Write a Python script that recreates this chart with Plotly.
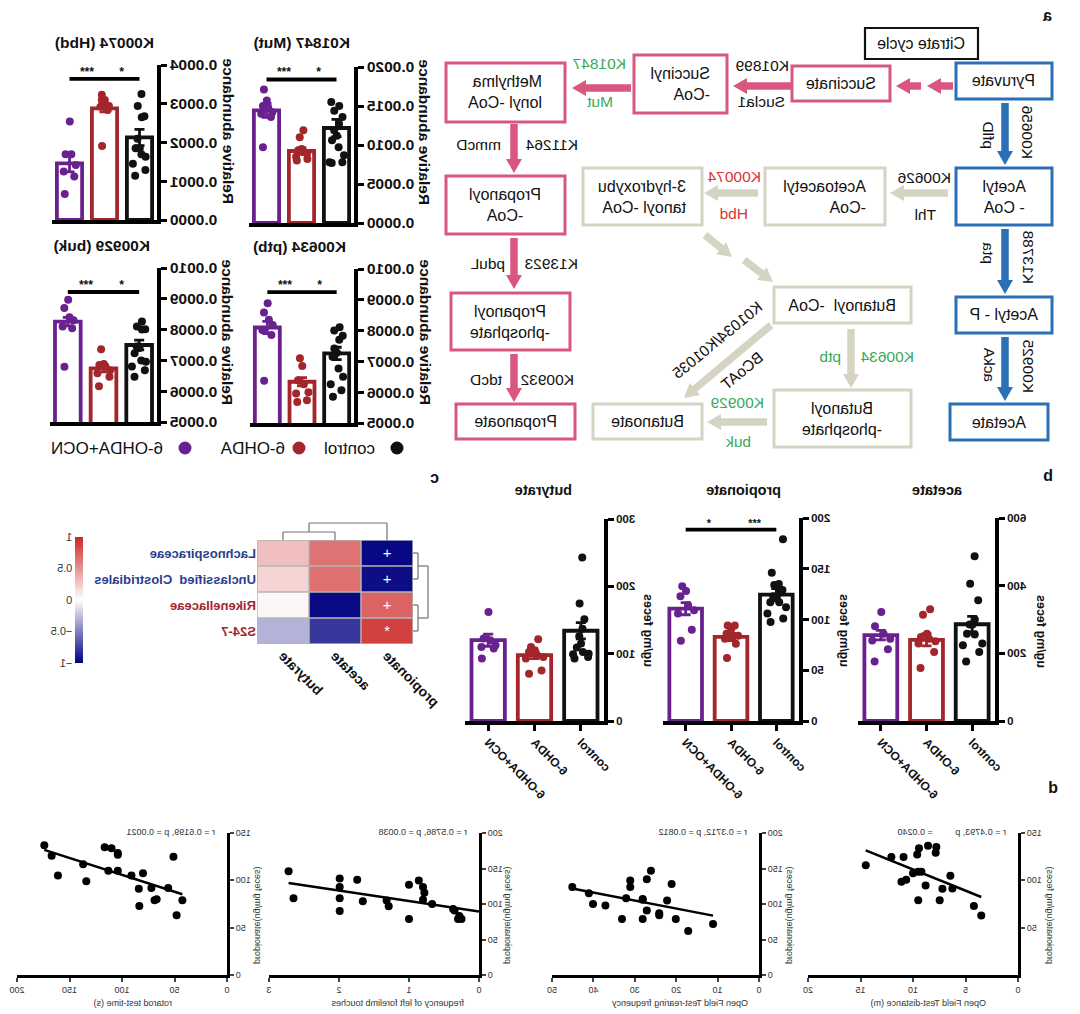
import numpy as np
import plotly.graph_objects as go

W, H = 1080, 1014
FONT = "Liberation Sans, Arial, Helvetica, sans-serif"


def px(x):
    return x / W


def py(y):
    return 1 - y / H


# ------------------------------------------------------------------ data
groups = ["control", "6-OHDA", "6-OHDA+OCN"]
group_colors = ["#111111", "#a3262c", "#6a2190"]

# KEGG relative abundance (K01847 Mut)
k01847_means = [0.001218, 0.000923, 0.001444]
k01847_sems = [0.00011, 0.00004, 0.00009]
k01847_ctrl = [0.00155, 0.00150, 0.00144, 0.00136, 0.00127, 0.00119, 0.00112, 0.00106, 0.00097, 0.00087, 0.00078, 0.00077, 0.00078]
k01847_ohda = [0.00119, 0.00110, 0.00091, 0.00089, 0.00082, 0.00080, 0.00085, 0.00093, 0.00095]
k01847_ocn = [0.00171, 0.00157, 0.00150, 0.00142, 0.00140, 0.00136, 0.00097, 0.00148]

# K00074 Hbd
k00074_means = [0.000213, 0.000288, 0.000146]
k00074_sems = [0.000021, 0.000009, 0.000022]
k00074_ctrl = [0.000325, 0.000294, 0.000268, 0.000265, 0.000210, 0.000185, 0.000185, 0.000170, 0.000163, 0.000145, 0.000129, 0.000114]
k00074_ohda = [0.000323, 0.000310, 0.000310, 0.000297, 0.000294, 0.000292, 0.000284, 0.000191]
k00074_ocn = [0.000254, 0.000170, 0.000170, 0.000142, 0.000125, 0.000112, 0.000067]

# K00634 ptb
k00634_means = [0.000726, 0.000634, 0.000810]
k00634_sems = [0.000020, 0.000013, 0.000020]
k00634_ctrl = [0.000811, 0.000800, 0.000783, 0.000770, 0.000742, 0.000728, 0.000715, 0.000677, 0.000650, 0.000626, 0.000606, 0.000585]
k00634_ohda = [0.000710, 0.000685, 0.000639, 0.000626, 0.000600, 0.000596, 0.000574, 0.000568]
k00634_ocn = [0.000889, 0.000859, 0.000835, 0.000818, 0.000802, 0.000786, 0.000637]

# K00929 buk
k00929_means = [0.000750, 0.000674, 0.000826]
k00929_sems = [0.000016, 0.000011, 0.000014]
k00929_ctrl = [0.000826, 0.000810, 0.000801, 0.000800, 0.000745, 0.000740, 0.000723, 0.000700, 0.000696, 0.000680, 0.000668, 0.000647]
k00929_ohda = [0.000736, 0.000688, 0.000685, 0.000680, 0.000668, 0.000658, 0.000647, 0.000616]
k00929_ocn = [0.000897, 0.000870, 0.000840, 0.000830, 0.000810, 0.000804, 0.000679]

kegg_sig = [0.00184, 0.000364, 0.000925, 0.000922]

# SCFA (ug/mg feces)
acetate_means = [286, 240, 254]
acetate_sems = [23, 18, 14]
acetate_ctrl = [487, 406, 357, 300, 285, 285, 258, 256, 229, 224, 204, 176]
acetate_ohda = [330, 314, 258, 248, 243, 236, 229, 204, 157]
acetate_ocn = [322, 280, 258, 243, 238, 212, 176]

propionate_means = [124.5, 82.8, 110.7]
propionate_sems = [6, 3.5, 6]
propionate_ctrl = [179, 146, 135, 134, 129, 127, 123, 122, 117, 117, 112, 106, 101, 97.5]
propionate_ohda = [94, 94, 91, 86, 84, 84, 81, 76, 62]
propionate_ocn = [132.7, 128, 123, 114, 109, 106, 90, 79]
propionate_sig = 188.5

butyrate_means = [134, 97.7, 120]
butyrate_sems = [12, 5, 9]
butyrate_ctrl = [243, 174.5, 151, 137, 126, 115, 109, 102.6, 100, 99, 95, 93]
butyrate_ohda = [121.5, 110, 105, 102.6, 97.7, 95, 92.7, 75, 70]
butyrate_ocn = [162, 122.5, 120, 112.5, 110, 107.6, 93]

# Heatmap (Spearman r)
hm_cols = ["propionate", "acetate", "butyrate"]
hm_rows = ["Lachnospiraceae", "Unclassified  Clostridiales", "Rikenellaceae", "S24-7"]
hm_row_colors = ["#2b3d8c", "#2b3d8c", "#a3262c", "#a3262c"]
hm_z = [[-0.97, 0.65, 0.30],
        [-0.95, 0.66, 0.20],
        [0.72, -0.96, 0.04],
        [0.88, -0.78, -0.30]]
hm_marks = [["+", "", ""], ["+", "", ""], ["+", "", ""], ["*", "", ""]]

# Correlation scatter plots (propionate vs behaviour)
s1_x = [14.5, 12.06, 10.9, 11.1, 10.65, 10.0, 9.6, 9.43, 8.57, 7.78, 7.84, 9.52, 9.2, 8.8, 9.5, 7.46, 7.2, 6.44, 6.25, 4.2, 3.5]
s1_y = [116, 124.6, 124.6, 98.5, 100.6, 107.6, 127.4, 133.8, 136.6, 135.2, 129.2, 109, 109, 94.6, 79, 79, 91, 104.8, 91.4, 73, 62.8]
s2_x = [45.1, 41.1, 40.1, 37.1, 33.1, 32.1, 31.1, 31.1, 28.1, 28.1, 28.1, 27.1, 27.1, 26.1, 24.1, 24.1, 22.2, 21.1, 20.1, 17.1, 11.1]
s2_y = [124, 115, 100, 98, 79, 108, 124, 133, 79, 106, 107, 135, 91, 147, 87, 84, 105, 128, 79, 62, 72]
s3_x = [2.72, 2.65, 1.99, 1.99, 1.99, 1.99, 1.74, 1.66, 1.32, 1.29, 1.0, 1.0, 0.86, 0.8, 0.78, 0.8, 0.67, 0.37, 0.35, 0.28, 0.30, 0.25]
s3_y = [146, 108, 136, 124, 108, 90, 134, 104, 105, 97, 127, 79, 133, 124, 116, 106, 100, 93, 91, 83, 79, 79]
s4_x = [174, 167, 161, 137, 134, 116.5, 110, 104, 104, 113, 104, 91, 80, 84, 83.5, 72, 69, 67, 56, 51, 48, 42.5]
s4_y = [137, 126, 105, 117, 99, 135, 134, 129, 127, 110, 110, 105, 107.5, 91, 73, 92, 79, 80, 92, 125, 63, 79]
scatter_xtitles = ["Open Field Test-distance (m)", "Open Field Test-rearing frequency",
                   "frequency of left forelimb touches", "rotarod test-time (s)"]
scatter_stats = ["r = 0.4793, p         = 0.0240", "r = 0.3712, p = 0.0812",
                 "r = 0.5786, p = 0.0038", "r = 0.6199, p = 0.0021"]
scatter_xmax = [20, 50, 3, 200]
scatter_xdtick = [5, 10, 1, 50]
scatter_ymax = [150, 200, 200, 150]

# ------------------------------------------------------------------ layout helpers
# panel boxes in pixels: x0, x1, ytop, ybottom
boxes = {
    1: (726, 831, 67, 223), 2: (923, 1028, 65, 220),
    3: (726, 830, 269, 423), 4: (923, 1030, 268, 422),
    5: (85, 222, 518, 721), 6: (281, 417, 518, 721), 7: (476, 615, 519, 721),
    8: (667, 823, 540, 644),
    9: (62, 272, 833, 975), 10: (321, 528, 833, 975), 11: (601, 811, 833, 975), 12: (853, 1063, 833, 975),
}


def ax_ids(i):
    return ("x" if i == 1 else f"x{i}"), ("y" if i == 1 else f"y{i}")


def ax_keys(i):
    return ("xaxis" if i == 1 else f"xaxis{i}"), ("yaxis" if i == 1 else f"yaxis{i}")


fig = go.Figure()
layout = {}
annotations = []
shapes = []


def font(size, color="#111111", bold=False):
    d = dict(family=FONT, size=size, color=color)
    if bold:
        d["weight"] = "bold"
    return d


def ann(text, x, y, size=15, color="#111111", bold=False, angle=0, xanchor="center", yanchor="middle", align="center"):
    annotations.append(dict(text=text, x=px(x), y=py(y), xref="paper", yref="paper", showarrow=False,
                            font=font(size, color, bold), textangle=angle, xanchor=xanchor, yanchor=yanchor,
                            align=align))


def set_domain(i):
    x0, x1, yt, yb = boxes[i]
    xk, yk = ax_keys(i)
    xa, ya = ax_ids(i)
    layout[xk] = dict(domain=[px(x0), px(x1)], anchor=ya, automargin=False)
    layout[yk] = dict(domain=[py(yb), py(yt)], anchor=xa, automargin=False)
    return xk, yk, xa, ya


def bar_panel(i, means, sems, pts, yrange, dtick, tickfmt, tick_size, show_xlabels, sig=None, sig_labels=None,
              star_size=12):
    xk, yk, xa, ya = set_domain(i)
    for g, (m, s, p, c) in enumerate(zip(means, sems, pts, group_colors)):
        fig.add_trace(go.Bar(x=[g], y=[m], width=0.72, xaxis=xa, yaxis=ya, showlegend=False, hoverinfo="skip",
                             marker=dict(color="white", line=dict(color=c, width=3.8)),
                             error_y=dict(type="data", array=[s], color=c, thickness=2.8, width=5)))
    for g, (p, c) in enumerate(zip(pts, group_colors)):
        fig.add_trace(go.Box(x=[g] * len(p), y=p, xaxis=xa, yaxis=ya, boxpoints="all", jitter=0.75, pointpos=0,
                             width=0.7, fillcolor="rgba(0,0,0,0)", line=dict(color="rgba(0,0,0,0)", width=0),
                             marker=dict(color=c, size=8), showlegend=False, hoverinfo="skip"))
    if sig is not None:
        fig.add_trace(go.Scatter(x=[0, len(groups) - 1], y=[sig, sig], mode="lines", xaxis=xa, yaxis=ya,
                                 line=dict(color="black", width=3.8), showlegend=False, hoverinfo="skip"))
        for k, lab in enumerate(sig_labels):
            annotations.append(dict(text=lab, x=k + 0.5, y=sig, xref=xa, yref=ya, showarrow=False, yshift=7,
                                    font=font(star_size, bold=True), xanchor="center", yanchor="middle"))
    layout[xk].update(range=[-0.5, 2.5], showline=True, linewidth=3.5, linecolor="black", showgrid=False,
                      zeroline=False, tickvals=list(range(len(groups))), ticktext=groups,
                      showticklabels=show_xlabels, ticks="outside" if show_xlabels else "",
                      ticklen=6, tickwidth=2.8, tickcolor="black", tickangle=-45,
                      tickfont=font(12, bold=True))
    layout[yk].update(range=yrange, showline=True, linewidth=3.5, linecolor="black", showgrid=False,
                      zeroline=False, ticks="outside", ticklen=6, tickwidth=2.8, tickcolor="black",
                      dtick=dtick, tick0=yrange[0], tickformat=tickfmt, tickfont=font(tick_size, bold=True))


# KEGG panels (top right)
stars_k = ["*", "***"]
bar_panel(1, k01847_means, k01847_sems, [k01847_ctrl, k01847_ohda, k01847_ocn], [0, 0.002], 0.0005, ".4f", 15.5,
          False, kegg_sig[0], stars_k)
bar_panel(2, k00074_means, k00074_sems, [k00074_ctrl, k00074_ohda, k00074_ocn], [0, 0.0004], 0.0001, ".4f", 15.5,
          False, kegg_sig[1], stars_k)
bar_panel(3, k00634_means, k00634_sems, [k00634_ctrl, k00634_ohda, k00634_ocn], [0.0005, 0.0010], 0.0001, ".4f",
          15.5, False, kegg_sig[2], stars_k)
bar_panel(4, k00929_means, k00929_sems, [k00929_ctrl, k00929_ohda, k00929_ocn], [0.0005, 0.0010], 0.0001, ".4f",
          15.5, False, kegg_sig[3], stars_k)
for t, x, y in zip(["K01847 (Mut)", "K00074 (Hbd)", "K00634 (ptb)", "K00929 (buk)"],
                   [778, 975, 780, 978], [43, 43, 246, 245]):
    ann(t, x, y, size=15.5, bold=True)
for x, y in [(655, 132), (851, 131), (654, 332), (852, 332)]:
    ann("Relative abundance", x, y, size=15.5, bold=True, angle=-90)

# legend
for (cx, tx, lab, c) in zip([683, 781, 895], [703, 793, 915], groups, group_colors):
    shapes.append(dict(type="circle", xref="paper", yref="paper", x0=px(cx - 6.5), x1=px(cx + 6.5),
                       y0=py(448 + 6.5), y1=py(448 - 6.5), fillcolor=c, line=dict(width=0)))
    ann(lab, tx, 448, size=17, xanchor="left")

# SCFA panels
bar_panel(5, acetate_means, acetate_sems, [acetate_ctrl, acetate_ohda, acetate_ocn], [0, 600], 200, "d", 11.5, True)
bar_panel(6, propionate_means, propionate_sems, [propionate_ctrl, propionate_ohda, propionate_ocn], [0, 200], 50,
          "d", 11.5, True, propionate_sig, ["***", "*"], star_size=11)
bar_panel(7, butyrate_means, butyrate_sems, [butyrate_ctrl, butyrate_ohda, butyrate_ocn], [0, 300], 100, "d", 11.5,
          True)
for t, x in zip(["acetate", "propionate", "butyrate"], [143, 336, 536]):
    ann(t, x, 490, size=14.5, bold=True)
for x in [39, 236, 432]:
    ann("ug/mg feces", x, 631, size=12.5, bold=True, angle=-90)

# Heatmap
xk, yk, xa, ya = set_domain(8)
fig.add_trace(go.Heatmap(z=hm_z, x=list(range(len(hm_cols))), y=list(range(len(hm_rows))), xaxis=xa, yaxis=ya,
                         zmin=-1, zmax=1, text=hm_marks, texttemplate="%{text}",
                         textfont=dict(family=FONT, size=15, color="white"),
                         colorscale=[[0, "rgb(0,0,128)"], [0.5, "rgb(255,255,255)"], [1, "rgb(205,38,38)"]],
                         hoverinfo="skip",
                         colorbar=dict(x=px(997), xanchor="left", y=py(600), yanchor="middle", len=126 / H,
                                       lenmode="fraction", thickness=8, xpad=0, ypad=0, outlinewidth=0,
                                       tickvals=[-1, -0.5, 0, 0.5, 1], ticks="", tickfont=font(11, "#333"))))
layout[xk].update(range=[-0.5, 2.5], showgrid=False, zeroline=False, showline=False, tickvals=[0, 1, 2],
                  ticktext=hm_cols, tickangle=-45, ticks="", tickfont=font(14, bold=True))
layout[yk].update(range=[3.5, -0.5], showgrid=False, zeroline=False, showline=False, side="right",
                  tickvals=list(range(len(hm_rows))), ticks="",
                  ticktext=[f'<span style="color:{c}">{r}</span>' for r, c in zip(hm_rows, hm_row_colors)],
                  tickfont=font(13, bold=True))
for k in range(len(hm_cols) + 1):
    shapes.append(dict(type="line", xref=xa, yref=ya, x0=k - 0.5, x1=k - 0.5, y0=-0.5, y1=3.5,
                       line=dict(color="#b4b4b4", width=1.5)))
for k in range(len(hm_rows) + 1):
    shapes.append(dict(type="line", xref=xa, yref=ya, x0=-0.5, x1=2.5, y0=k - 0.5, y1=k - 0.5,
                       line=dict(color="#b4b4b4", width=1.5)))
hx0, hx1, hy0, hy1 = boxes[8]
cw = (hx1 - hx0) / 3
rh = (hy1 - hy0) / 4
cc = [hx0 + (k + 0.5) * cw for k in range(3)]
rc = [hy0 + (k + 0.5) * rh for k in range(4)]
h1, h2 = hy0 - 8, hy0 - 17
m12 = (cc[1] + cc[2]) / 2
w1, w2 = hx0 - 5, hx0 - 15
r01, r23 = (rc[0] + rc[1]) / 2, (rc[2] + rc[3]) / 2
dendro = [(cc[1], hy0, cc[1], h1), (cc[1], h1, cc[2], h1), (cc[2], h1, cc[2], hy0),
          (m12, h1, m12, h2), (m12, h2, cc[0], h2), (cc[0], h2, cc[0], hy0),
          (hx0, rc[0], w1, rc[0]), (w1, rc[0], w1, rc[1]), (w1, rc[1], hx0, rc[1]),
          (hx0, rc[2], w1, rc[2]), (w1, rc[2], w1, rc[3]), (w1, rc[3], hx0, rc[3]),
          (w1, r01, w2, r01), (w2, r01, w2, r23), (w2, r23, w1, r23)]
for (a, b, c, d) in dendro:
    shapes.append(dict(type="line", xref="paper", yref="paper", x0=px(a), y0=py(b), x1=px(c), y1=py(d),
                       line=dict(color="#707070", width=1.2)))

# Scatter panels
stitle_x = [151, 400, 682, 947]
sylab_x = [30, 290, 572, 822]
fit_from_zero = [False, False, True, False]
for n, (sx, sy) in enumerate([(s1_x, s1_y), (s2_x, s2_y), (s3_x, s3_y), (s4_x, s4_y)]):
    i = 9 + n
    xk, yk, xa, ya = set_domain(i)
    fig.add_trace(go.Scatter(x=sx, y=sy, mode="markers", xaxis=xa, yaxis=ya, showlegend=False, hoverinfo="skip",
                             marker=dict(color="black", size=8)))
    coef = np.polyfit(sx, sy, 1)
    lx = np.array([0 if fit_from_zero[n] else min(sx), max(sx)])
    fig.add_trace(go.Scatter(x=lx, y=np.polyval(coef, lx), mode="lines", xaxis=xa, yaxis=ya, showlegend=False,
                             hoverinfo="skip", line=dict(color="black", width=2.5)))
    ytv = list(range(0, scatter_ymax[n] + 1, 50))
    if n == 0:
        ytv = ytv[1:]
    layout[xk].update(range=[0, scatter_xmax[n]], dtick=scatter_xdtick[n], showline=True, linewidth=2.8,
                      linecolor="black", ticks="outside", ticklen=4, tickwidth=2, showgrid=False, zeroline=False,
                      tickfont=font(9, "#333"))
    layout[yk].update(range=[0, scatter_ymax[n]], tickvals=ytv, showline=True, linewidth=2.8, linecolor="black",
                      ticks="outside", ticklen=4, tickwidth=2, showgrid=False, zeroline=False,
                      tickfont=font(9, "#333"))
    ann(scatter_xtitles[n], stitle_x[n], 1003, size=9, color="#333")
    ann("propionate(ug/mg feces)", sylab_x[n], 915, size=9, color="#333", angle=-90)
    ann(scatter_stats[n], boxes[i][0] + 10, 832, size=9, color="#333", xanchor="left")

# ------------------------------------------------------------------ pathway diagram (panel a)
pink, blue, beige = "#d9577e", "#2b70b6", "#d5d4c3"
green, red = "#3aa95b", "#d9343c"
path_boxes = [
    ("Citrate cycle", 102, 28, 215, 59, "#111111", "center"),
    ("Pyruvate", 28, 63, 124, 99, blue, "center"),
    ("Succinate", 190, 66, 288, 101, pink, "center"),
    ("Succinyl<br>-CoA", 353, 55, 446, 113, pink, "left"),
    ("Methylma<br>lonyl -CoA", 515, 63, 634, 122, pink, "left"),
    ("Acetyl<br>- CoA", 28, 168, 124, 225, blue, "center"),
    ("Acetoacetyl<br>-CoA", 195, 168, 315, 225, beige, "left"),
    ("3-hydroxybu<br>tanoyl -CoA", 378, 168, 497, 225, beige, "left"),
    ("Propanoyl<br>-CoA", 515, 176, 634, 234, pink, "center"),
    ("Acetyl - P", 28, 297, 124, 333, blue, "center"),
    ("Butanoyl  -CoA", 169, 287, 306, 323, beige, "center"),
    ("Propanoyl<br>-phosphate", 510, 293, 629, 350, pink, "center"),
    ("Butanoyl<br>-phosphate", 169, 390, 306, 447, beige, "center"),
    ("Acetate", 32, 404, 130, 440, blue, "center"),
    ("Butanoate", 378, 404, 487, 439, beige, "center"),
    ("Propanoate", 505, 404, 624, 439, pink, "center"),
]
for (t, x0, y0, x1, y1, c, al) in path_boxes:
    shapes.append(dict(type="rect", xref="paper", yref="paper", x0=px(x0), x1=px(x1), y0=py(y1), y1=py(y0),
                       line=dict(color=c, width=2.2 if c == "#111111" else 3), fillcolor="white"))
    ann(t, (x0 + x1) / 2, (y0 + y1) / 2, size=16, align=al)

path_arrows = [
    (127, 86, 153, 86, pink), (159, 86, 184, 86, pink), (289, 86, 347, 86, pink), (449, 88, 508, 88, pink),
    (566, 124, 566, 173, pink), (566, 238, 566, 289, pink), (566, 354, 566, 402, pink),
    (75, 103, 75, 165, blue), (75, 229, 75, 294, blue), (75, 337, 75, 401, blue),
    (132, 193, 190, 193, beige), (322, 193, 376, 193, beige), (375, 235, 348, 257, beige),
    (336, 260, 307, 282, beige), (309, 325, 396, 398, beige), (229, 329, 229, 388, beige),
    (313, 422, 373, 422, beige),
]


def arrow_path(x0, y0, x1, y1, shaft=7.5, head_w=16, head_l=14):
    L = np.hypot(x1 - x0, y1 - y0)
    ux, uy = (x1 - x0) / L, (y1 - y0) / L
    nx, ny = -uy, ux
    bx, by = x1 - ux * head_l, y1 - uy * head_l
    pts = [(x0 + nx * shaft / 2, y0 + ny * shaft / 2), (bx + nx * shaft / 2, by + ny * shaft / 2),
           (bx + nx * head_w / 2, by + ny * head_w / 2), (x1, y1), (bx - nx * head_w / 2, by - ny * head_w / 2),
           (bx - nx * shaft / 2, by - ny * shaft / 2), (x0 - nx * shaft / 2, y0 - ny * shaft / 2)]
    return "M " + " L ".join(f"{px(a):.5f},{py(b):.5f}" for a, b in pts) + " Z"


for (x0, y0, x1, y1, c) in path_arrows:
    shapes.append(dict(type="path", xref="paper", yref="paper", path=arrow_path(x0, y0, x1, y1),
                       fillcolor=c, line=dict(width=0)))

path_labels = [
    ("K01899", 317, 65, "#111111", 0), ("Sucla1", 318, 102, "#111111", 0),
    ("K01847", 480, 64, green, 0), ("Mut", 480, 102, green, 0),
    ("K11264", 528, 144, "#111111", 0), ("mmcD", 601, 144, "#111111", 0),
    ("K13923", 528, 263, "#111111", 0), ("pduL", 592, 263, "#111111", 0),
    ("K00932", 532, 379, "#111111", 0), ("tdcD", 594, 379, "#111111", 0),
    ("K00656", 52, 133, "#111111", -90), ("pflD", 91, 135, "#111111", -90),
    ("K13788", 52, 258, "#111111", -90), ("pta", 91, 253, "#111111", -90),
    ("K00925", 52, 367, "#111111", -90), ("ackA", 91, 365, "#111111", -90),
    ("K00626", 155, 177, "#111111", 0), ("Thl", 155, 215, "#111111", 0),
    ("K00074", 346, 176, red, 0), ("Hbd", 346, 214, red, 0),
    ("K01034/K01035", 362, 340, "#111111", 39.5), ("BCoAT", 338, 370, "#111111", 39.5),
    ("K00634", 193, 356, green, 0), ("ptb", 250, 356, green, 0),
    ("K00929", 342, 403, green, 0), ("buk", 341, 441, green, 0),
]
for (t, x, y, c, a) in path_labels:
    ann(t, x, y, size=15.5, color=c, angle=a)

# panel letters
for t, x, y in [("a", 32, 16), ("b", 32, 476), ("c", 645, 478), ("d", 27, 787)]:
    ann(t, x, y, size=16, bold=True)

fig.update_layout(width=W, height=H, autosize=False,
                  margin=dict(l=0, r=0, t=0, b=0, pad=0, autoexpand=False), paper_bgcolor="white",
                  plot_bgcolor="rgba(0,0,0,0)", barmode="overlay", boxmode="overlay", showlegend=False,
                  font=dict(family=FONT, color="#111111"), annotations=annotations, shapes=shapes, **layout)

# the reference figure is a horizontally mirrored rendering of the panel
post = ("document.body.style.margin='0';document.body.style.overflow='hidden';"
        "var gd=document.getElementById('{plot_id}');"
        "gd.style.transformOrigin='50% 0';gd.style.transform='scaleX(-1)';")
fig.write_html("out.html", include_plotlyjs=True, full_html=True, post_script=post,
               config={"displayModeBar": False})
